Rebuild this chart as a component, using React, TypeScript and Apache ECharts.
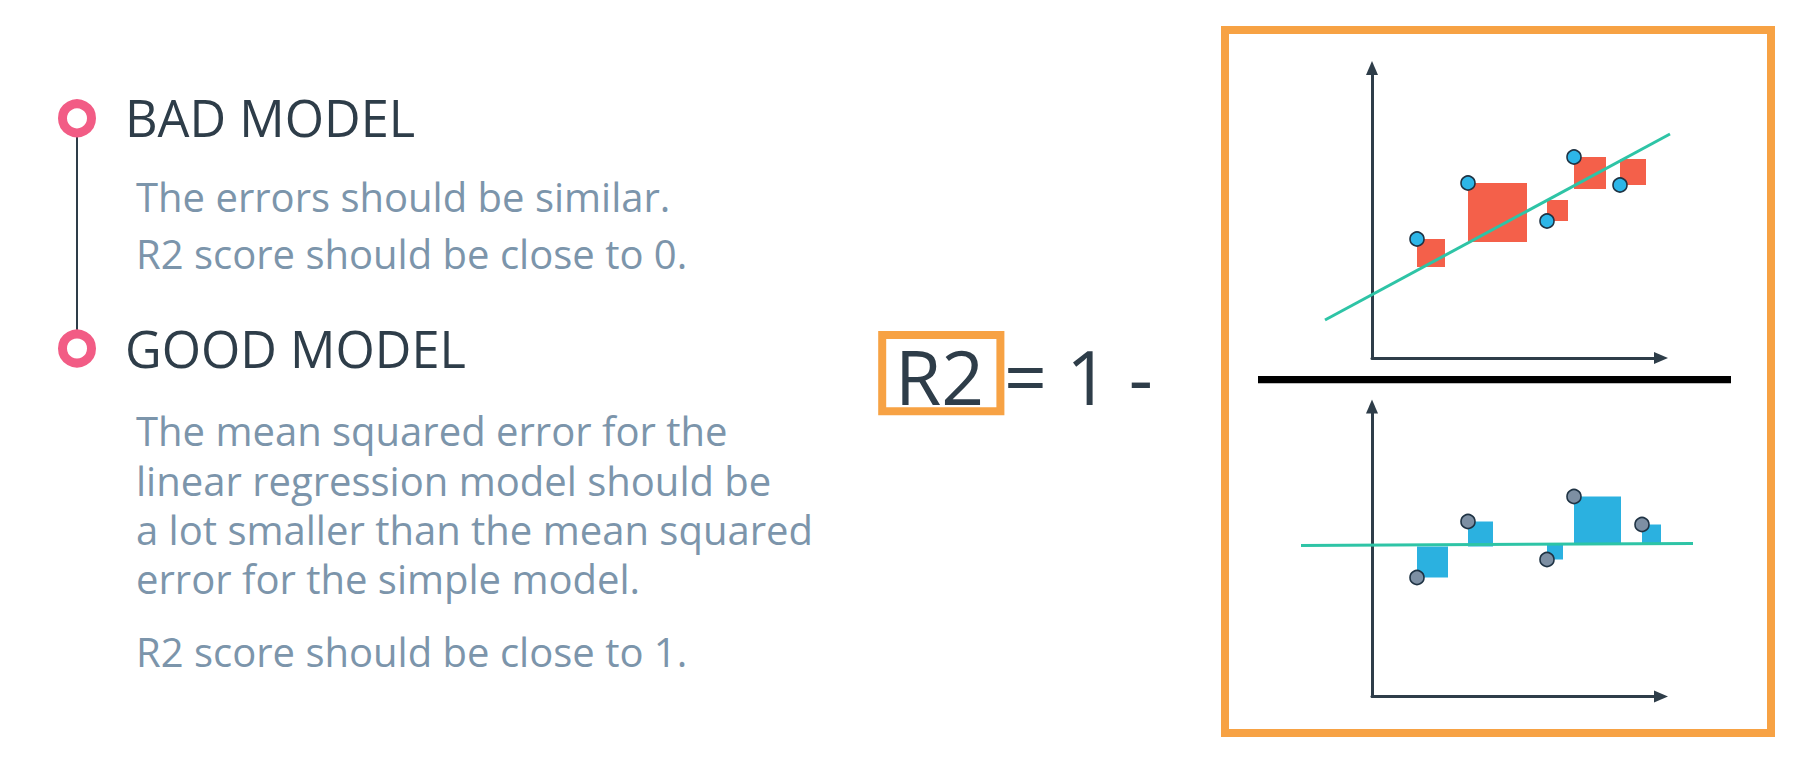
import React, { useEffect, useRef } from 'react';
import * as echarts from 'echarts';

// ---- data (units: arbitrary data units) ----
const topPointX = [4.5, 9.6, 17.5, 20.2, 24.8];
const topPointY = [11.9, 17.5, 13.7, 20.1, 17.3];
const topResiduals = [2.8, 5.9, -2.1, 3.2, -2.6];
const topLineX = [-4.7, 29.8];
const topLineY = [3.8, 22.4];

const bottomPointX = [4.5, 9.6, 17.5, 20.2, 27.0];
const bottomPointY = [11.9, 17.5, 13.7, 20.0, 17.2];
const bottomResiduals = [-3.1, 2.5, -1.6, 4.7, 1.9];
const bottomLineX = [-7.1, 32.1];
const bottomLineY = [15.1, 15.3];

const headings = ['BAD MODEL', 'GOOD MODEL'];
const badLines = ['The errors should be similar.', 'R2 score should be close to 0.'];
const goodLines = [
  'The mean squared error for the',
  'linear regression model should be',
  'a lot smaller than the mean squared',
  'error for the simple model.',
];
const goodNote = 'R2 score should be close to 1.';
const formulaLeft = 'R2';
const formulaRight = '= 1 -';

const FONT = "'Open Sans', 'Noto Sans', sans-serif";
const DARK = '#2E3D49';
const GREY = '#7C95AB';
const ORANGE = '#F7A244';
const PINK = '#F25C85';
const TEAL = '#2EC4A6';

function squareSeries(xs: number[], ys: number[], rs: number[], idx: number, color: string) {
  return {
    type: 'custom',
    xAxisIndex: idx,
    yAxisIndex: idx,
    z: 1,
    clip: false,
    data: xs.map((x, i) => [x, ys[i], rs[i]]),
    encode: { x: 0, y: 1 },
    renderItem: (_params: any, api: any) => {
      const x = api.value(0);
      const y = api.value(1);
      const r = api.value(2);
      const p1 = api.coord([x, y]);
      const p2 = api.coord([x + Math.abs(r), y - r]);
      return {
        type: 'rect',
        shape: {
          x: Math.min(p1[0], p2[0]),
          y: Math.min(p1[1], p2[1]),
          width: Math.abs(p2[0] - p1[0]),
          height: Math.abs(p2[1] - p1[1]),
        },
        style: { fill: color },
      };
    },
  };
}

// fitted / mean line, drawn from its two end points (not clipped to the grid)
function lineSeries(xs: number[], ys: number[], idx: number) {
  return {
    type: 'custom',
    xAxisIndex: idx,
    yAxisIndex: idx,
    z: 2,
    clip: false,
    data: [[xs[0], ys[0], xs[1], ys[1]]],
    encode: { x: [0, 2], y: [1, 3] },
    renderItem: (_params: any, api: any) => {
      const p1 = api.coord([api.value(0), api.value(1)]);
      const p2 = api.coord([api.value(2), api.value(3)]);
      return {
        type: 'line',
        shape: { x1: p1[0], y1: p1[1], x2: p2[0], y2: p2[1] },
        style: { stroke: TEAL, lineWidth: 3 },
      };
    },
  };
}

function pointSeries(xs: number[], ys: number[], idx: number, fill: string) {
  return {
    type: 'scatter',
    xAxisIndex: idx,
    yAxisIndex: idx,
    z: 3,
    symbolSize: 14,
    data: xs.map((x, i) => [x, ys[i]]),
    itemStyle: { color: fill, borderColor: '#1F3344', borderWidth: 1.6, opacity: 1 },
  };
}

const axisLine = {
  show: true,
  onZero: false,
  symbol: ['none', 'triangle'],
  symbolSize: [12, 14],
  lineStyle: { color: DARK, width: 3 },
};

function axis(gridIndex: number, max: number) {
  return {
    type: 'value',
    gridIndex,
    min: 0,
    max,
    axisLine,
    axisTick: { show: false },
    axisLabel: { show: false },
    splitLine: { show: false },
  };
}

function txt(text: string, x: number, y: number, size: number, color: string) {
  return {
    type: 'text',
    x,
    y,
    silent: true,
    style: {
      text,
      fill: color,
      fontSize: size,
      lineHeight: Math.round(size * 1.05),
      fontFamily: FONT,
      fontWeight: 400,
      align: 'left',
      verticalAlign: 'middle',
    },
  };
}

export default function App() {
  const ref = useRef<HTMLDivElement>(null);
  useEffect(() => {
    if (!ref.current) return;
    const chart = echarts.init(ref.current, null, { renderer: 'svg' });
    const goodY = [430.4, 480.2, 529.7, 578.8];
    const graphics: any[] = [
      // timeline
      { type: 'line', shape: { x1: 77, y1: 137, x2: 77, y2: 330 }, style: { stroke: DARK, lineWidth: 2 } },
      { type: 'circle', shape: { cx: 77, cy: 118.3, r: 14.5 }, style: { fill: '#fff', stroke: PINK, lineWidth: 9 } },
      { type: 'circle', shape: { cx: 77, cy: 348.5, r: 14.5 }, style: { fill: '#fff', stroke: PINK, lineWidth: 9 } },
      txt(headings[0], 125, 117, 50.5, DARK),
      txt(headings[1], 125, 348, 50.5, DARK),
      txt(badLines[0], 136, 196, 40, GREY),
      txt(badLines[1], 136, 253.8, 40, GREY),
      ...goodLines.map((t, i) => txt(t, 136, goodY[i], 40, GREY)),
      txt(goodNote, 136, 651, 40, GREY),
      // formula
      { type: 'rect', shape: { x: 882.2, y: 335, width: 118.2, height: 76.2 }, style: { fill: 'none', stroke: ORANGE, lineWidth: 8 } },
      txt(formulaLeft, 895, 376, 75, DARK),
      txt(formulaRight, 1004, 376, 75, DARK),
      // right frame
      { type: 'rect', shape: { x: 1225, y: 30, width: 546, height: 703 }, style: { fill: 'none', stroke: ORANGE, lineWidth: 8 } },
      { type: 'rect', shape: { x: 1258, y: 376, width: 473, height: 7.3 }, style: { fill: '#000' } },
    ];
    chart.setOption({
      animation: false,
      backgroundColor: '#ffffff',
      grid: [
        { left: 1372, top: 68, width: 289, height: 290 },
        { left: 1372, top: 406.5, width: 289, height: 290 },
      ],
      xAxis: [axis(0, 28.9), axis(1, 28.9)],
      yAxis: [axis(0, 29), axis(1, 29)],
      series: [
        squareSeries(topPointX, topPointY, topResiduals, 0, '#F4604A'),
        lineSeries(topLineX, topLineY, 0),
        pointSeries(topPointX, topPointY, 0, '#2DB6E8'),
        squareSeries(bottomPointX, bottomPointY, bottomResiduals, 1, '#2BB1E0'),
        lineSeries(bottomLineX, bottomLineY, 1),
        pointSeries(bottomPointX, bottomPointY, 1, '#7D8FA3'),
      ],
      graphic: graphics,
    });
    return () => chart.dispose();
  }, []);
  return (
    <div
      ref={ref}
      style={{ position: 'fixed', left: 0, top: 0, width: 1801, height: 772, background: '#fff' }}
    />
  );
}
